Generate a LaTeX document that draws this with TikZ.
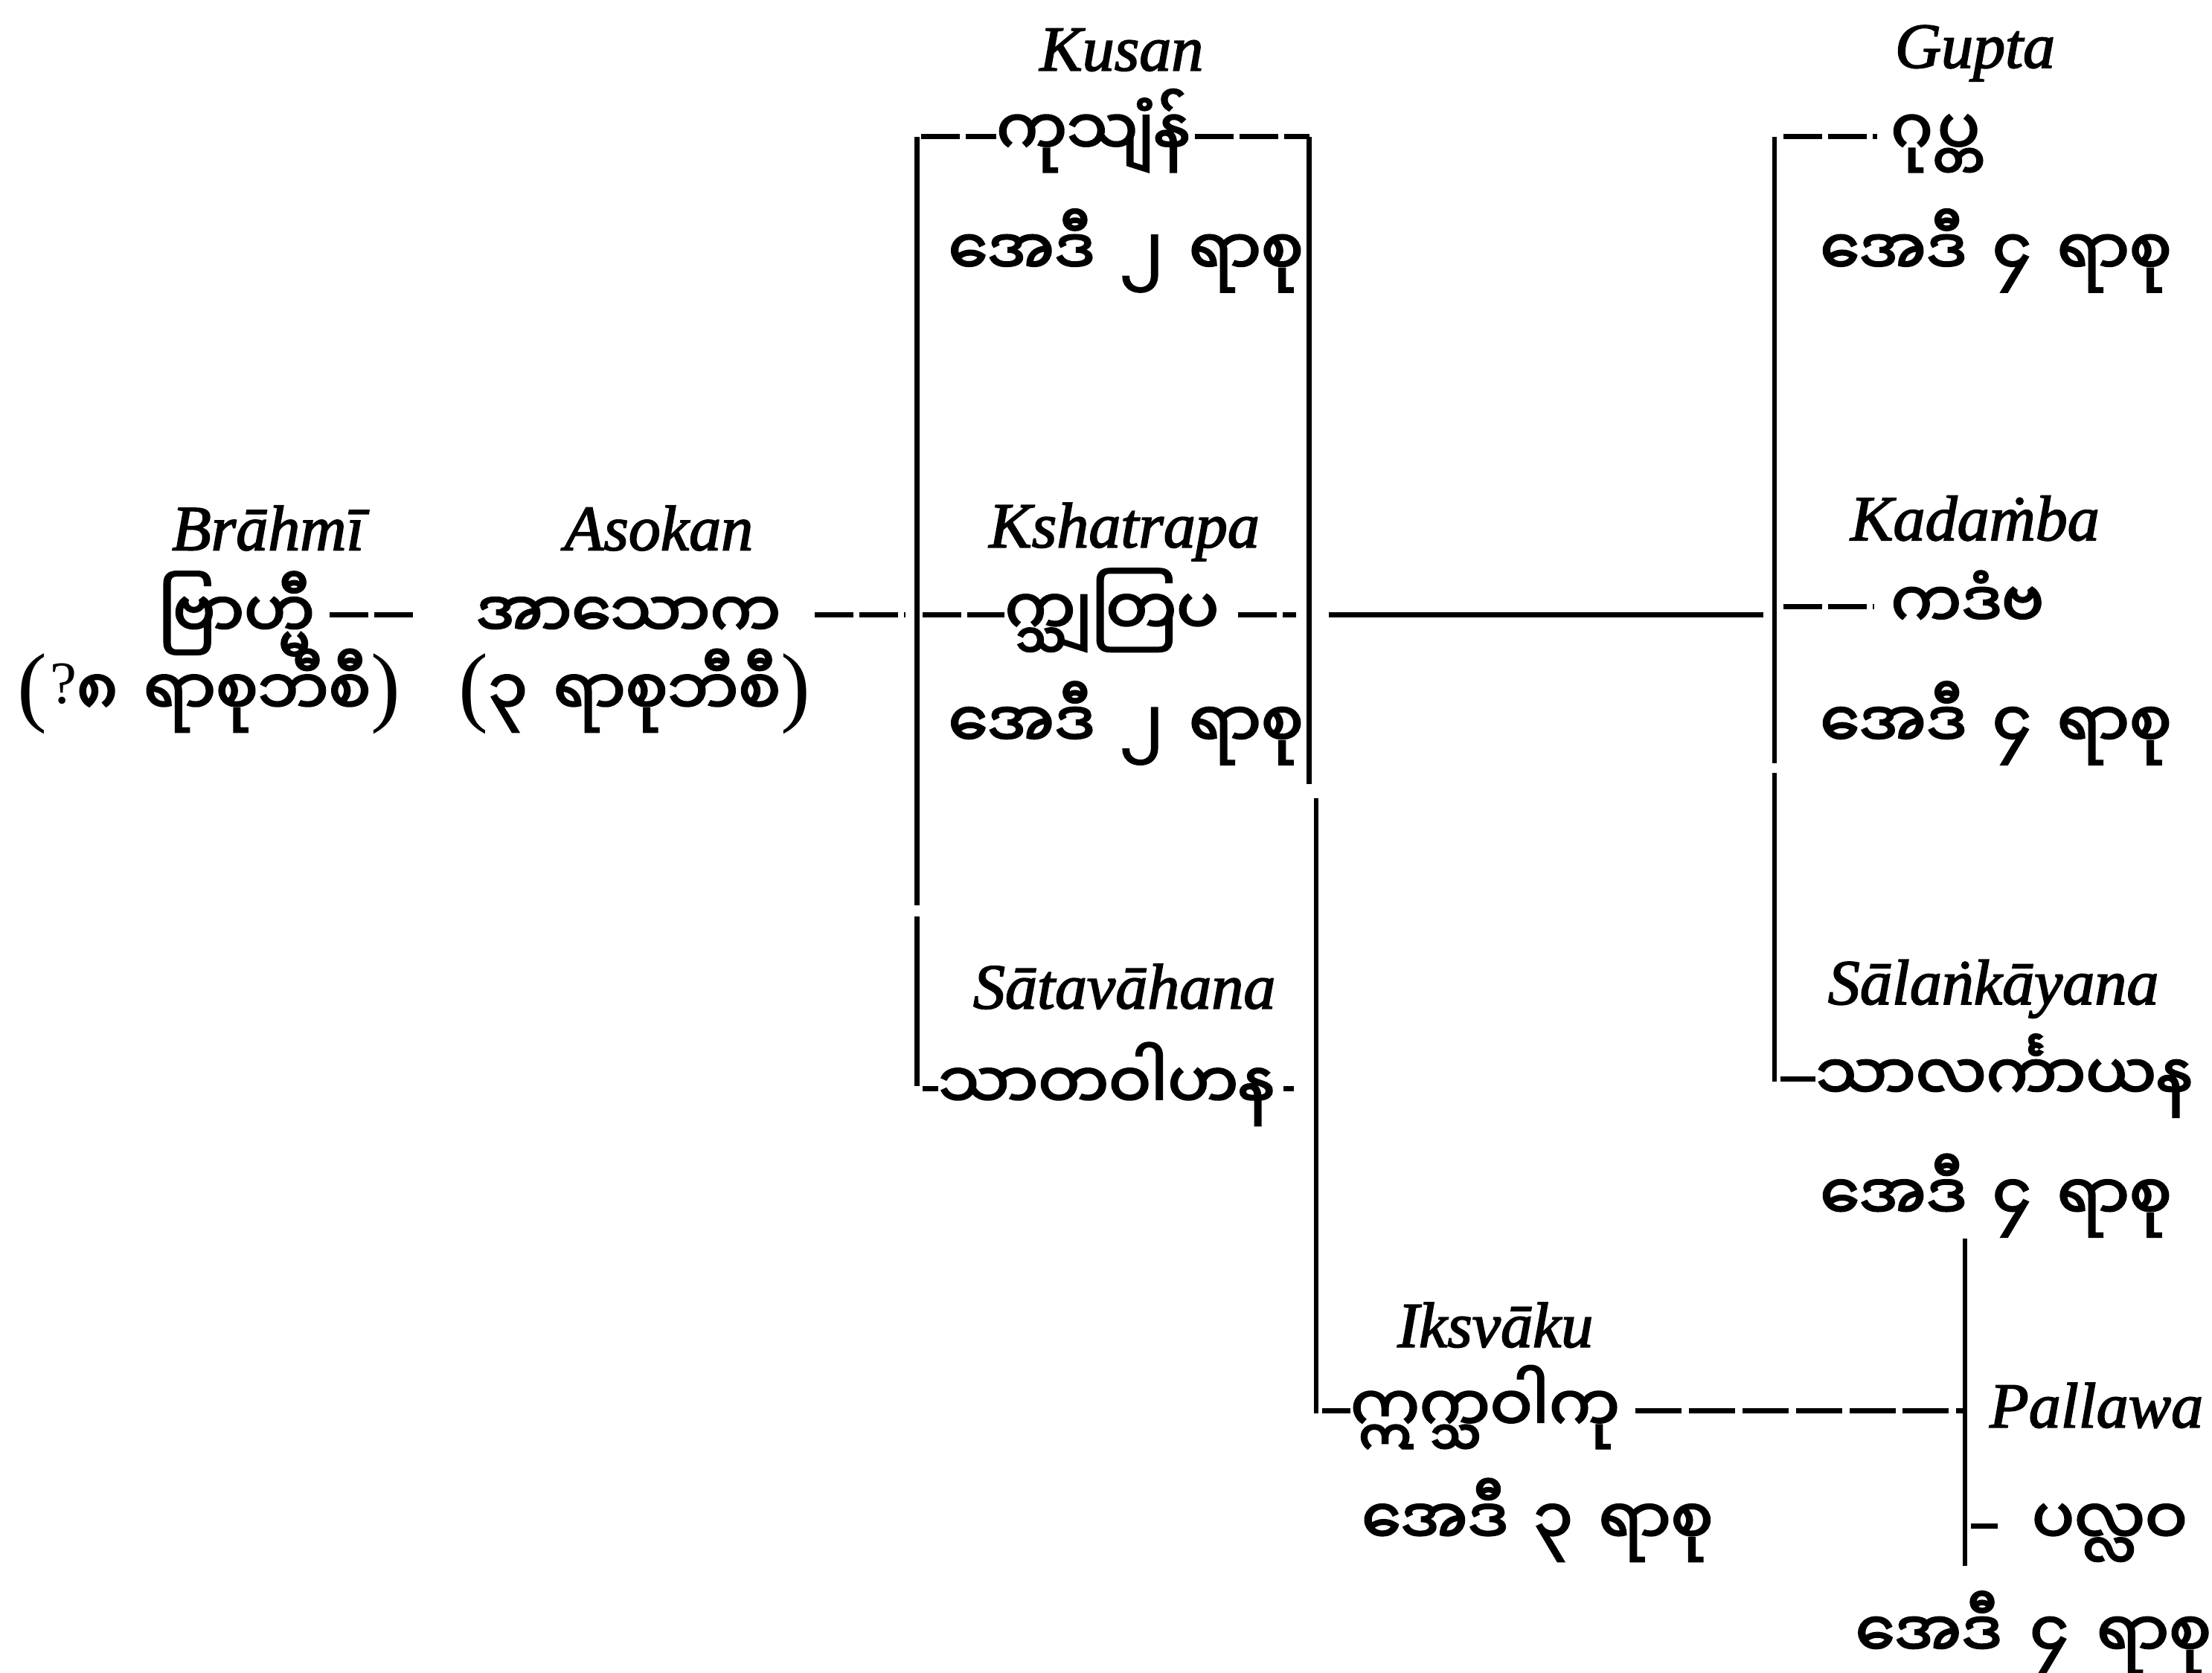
\documentclass[tikz,border=0pt]{standalone}
\usepackage{fontspec}
\setmainfont{Liberation Serif}[ItalicFeatures={FakeBold=2}]
\newfontfamily\mmfont[Script=Myanmar,WordSpace=1.6,FakeBold=3]{Noto Sans Myanmar UI}
\tikzset{
  lbl/.style={font=\fontsize{24.5}{28}\selectfont\itshape, inner sep=0pt, anchor=base},
  mmname/.style={font=\fontsize{24}{28}\selectfont\mmfont, inner sep=0pt, anchor=base west},
  brk/.style={line width=1.8pt},
  hln/.style={line width=2pt},
  dashln/.style={line width=2pt, dash pattern=on 0.52cm off 0.08cm},
  longdash/.style={line width=2pt, dash pattern=on 0.62cm off 0.1cm},
}
\newcommand{\prn}[1]{{\fontsize{34}{34}\selectfont\rmfamily #1}}
\newcommand{\qmk}{\raisebox{0.16cm}{\fontsize{23}{23}\selectfont\rmfamily\kern0.04cm?}}
\newcommand{\dotover}[1]{\ooalign{#1\cr\hidewidth\kern0.1em\char"02D9\hidewidth\cr}}

\begin{document}
\begin{tikzpicture}[x=0.01896cm, y=-0.01896cm]
  \useasboundingbox (0,0) rectangle (1568,1186);
  % row heights
  \coordinate (rowA) at (0,436);
  \coordinate (rowD) at (0,430);
  \coordinate (rowS) at (0,772);
  \coordinate (rowL) at (0,765);
  \coordinate (rowI) at (0,1000);
  \coordinate (rowP) at (0,1082);
  % bracket corners
  \coordinate (kTL) at (650,97);  \coordinate (kGa) at (650,642);
  \coordinate (kGb) at (650,650); \coordinate (kBL) at (650,770);
  \coordinate (kTR) at (928,97);  \coordinate (kMR) at (928,556);
  \coordinate (kMR2) at (933,566); \coordinate (kBR) at (933,1002);
  \coordinate (gT) at (1258,97);  \coordinate (gM) at (1258,541);
  \coordinate (gM2) at (1258,548); \coordinate (gB) at (1258,767);
  \coordinate (pT) at (1393,878); \coordinate (pB) at (1393,1110);

  % Brahmi and Asokan
  \node[lbl] (lbrahmi) at (190,390) {Brāhmī};
  \node[lbl] (lasoka) at (467,390) {Asokan};
  \node[mmname] (brahmi) at (112,452) {ဗြာဟ္မီ};
  \node[mmname] (asoka) at (337,452) {အာသောက};
  \node[mmname] (brahmidate) at (12,507) {\prn{(}\qmk ၈ ရာစုဘီစီ\prn{)}};
  \node[mmname] (asokadate) at (325,507) {\prn{(}၃ ရာစုဘီစီ\prn{)}};

  % first bracket
  \node[lbl] (lkusan) at (795,50) {Kusan};
  \node[mmname] (kusan) at (706,110) {ကုသျံန်};
  \node[mmname] (kusandate) at (672,195) {အေဒီ ၂ ရာစု};
  \node[lbl] (lkshat) at (797,388) {Kshatrapa};
  \node[mmname] (kshat) at (712,450) {က္သျတြပ};
  \node[mmname] (kshatdate) at (672,530) {အေဒီ ၂ ရာစု};
  \node[lbl] (lsatav) at (797,715) {Sātavāhana};
  \node[mmname] (satav) at (665,786) {သာတဝါဟန};

  % second bracket
  \node[lbl] (lgupta) at (1400,48) {Gupta};
  \node[mmname] (gupta) at (1340,110) {ဂုပ္တ};
  \node[mmname] (guptadate) at (1290,195) {အေဒီ ၄ ရာစု};
  \node[lbl] (lkadam) at (1400,383) {Kada\dotover{m}ba};
  \node[mmname] (kadam) at (1340,445) {ကဒံဗ};
  \node[mmname] (kadamdate) at (1290,530) {အေဒီ ၄ ရာစု};
  \node[lbl] (lsalan) at (1413,712) {Sāla\dotover{n}kāyana};
  \node[mmname] (salan) at (1287,780) {သာလင်္ကာယန};
  \node[mmname] (salandate) at (1290,865) {အေဒီ ၄ ရာစု};

  % Iksvaku and Pallawa
  \node[lbl] (liksv) at (1060,955) {Iksvāku};
  \node[mmname] (iksv) at (957,1015) {ဣက္သဝါကု};
  \node[mmname] (iksvdate) at (965,1095) {အေဒီ ၃ ရာစု};
  \node[lbl, anchor=base west] (lpalla) at (1410,1012) {Pallawa};
  \node[mmname] (palla) at (1440,1095) {ပလ္လဝ};
  \node[mmname] (palladate) at (1315,1175) {အေဒီ\hspace{0.38cm}၄\hspace{0.38cm}ရာစု};

  % brackets
  \draw[brk] (kTL) -- (kGa);
  \draw[brk] (kGb) -- (kBL);
  \draw[brk] (kTR) -- (kMR);
  \draw[brk] (kMR2) -- (kBR);
  \draw[brk] (gT) -- (gM);
  \draw[brk] (gM2) -- (gB);
  \draw[brk] (pT) -- (pB);

  % left links
  \draw[dashln, shorten <=0.19cm, shorten >=0.8cm] (brahmi.east |- rowA) -- (asoka.west |- rowA);
  \draw[dashln, shorten <=0.45cm, shorten >=0.15cm] (asoka.east |- rowA) -- (kTL |- rowA);
  % first bracket rows
  \draw[dashln, shorten <=0.06cm] (kTL) -- (kusan.west |- kTL);
  \draw[dashln, shorten <=0.06cm] (kusan.east |- kTR) -- (kTR);
  \draw[dashln, shorten <=0.08cm] (kTL |- rowA) -- (kshat.west |- rowA);
  \draw[dashln, shorten <=0.25cm, shorten >=0.18cm] (kshat.east |- rowA) -- (kTR |- rowA);
  \draw[hln, shorten <=0.08cm] (kBL |- rowS) -- (satav.west |- rowS);
  \draw[hln, shorten <=0.12cm, shorten >=0.3cm] (satav.east |- rowS) -- (kMR2 |- rowS);
  \draw[hln, shorten <=0.26cm, shorten >=0.15cm] (kTR |- rowA) -- (gT |- rowA);
  % second bracket rows
  \draw[dashln, shorten <=0.12cm, shorten >=0.18cm] (gT) -- (gupta.west |- gT);
  \draw[dashln, shorten <=0.12cm, shorten >=0.22cm] (gT |- rowD) -- (kadam.west |- rowD);
  \draw[hln, shorten <=0.08cm] (gB |- rowL) -- (salan.west |- rowL);
  % Iksvaku and Pallawa rows
  \draw[hln, shorten <=0.08cm] (kBR |- rowI) -- (iksv.west |- rowI);
  \draw[longdash, shorten <=0.2cm] (iksv.east |- rowI) -- (pT |- rowI);
  \draw[hln, shorten <=0.08cm, shorten >=0.45cm] (pT |- rowP) -- (palla.west |- rowP);
\end{tikzpicture}
\end{document}
